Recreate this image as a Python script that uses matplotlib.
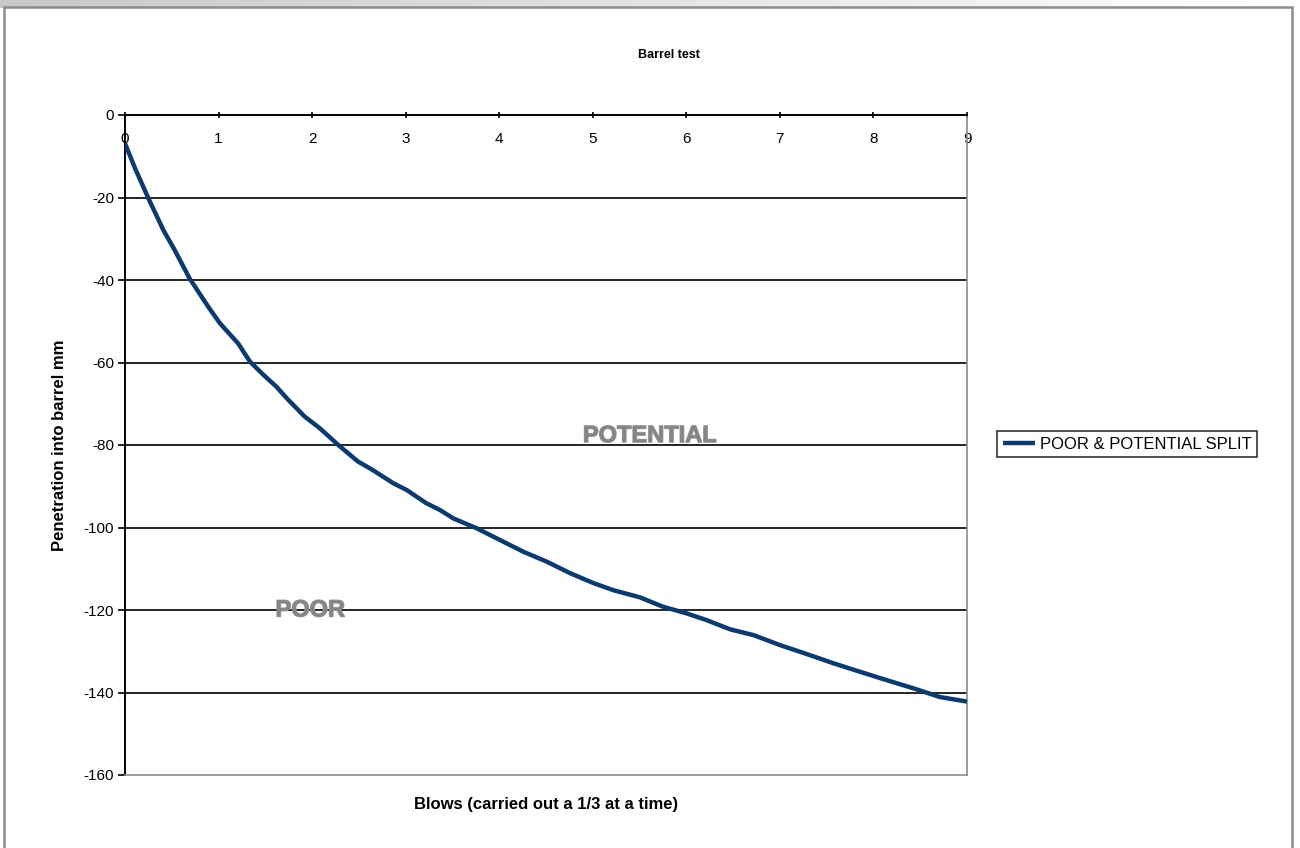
import matplotlib
matplotlib.use('Agg')
import matplotlib.pyplot as plt
import matplotlib.patheffects as pe
from matplotlib.patches import Rectangle
import numpy as np

plt.rcParams['font.family'] = ['Liberation Sans', 'DejaVu Sans']
plt.rcParams['axes.unicode_minus'] = False

# 数据 (blows, penetration mm) - 从原图读取
blows = [0, 0.107, 0.25, 0.41, 0.53, 0.69, 0.89, 1.015, 1.21, 1.336, 1.48, 1.62, 1.73,
         1.92, 2.08, 2.28, 2.49, 2.65, 2.87, 3.01, 3.22, 3.37, 3.51, 3.76, 3.97, 4.26,
         4.51, 4.76, 5.01, 5.22, 5.5, 5.75, 6.0, 6.21, 6.47, 6.72, 7.0, 7.29, 7.57,
         7.86, 8.14, 8.43, 8.71, 9.0]
penetration = [-6.9, -12.9, -20.2, -27.9, -32.7, -39.6, -46.5, -50.5, -55.4, -59.8, -63,
               -65.9, -68.7, -73.1, -75.9, -80, -84, -86.1, -89.3, -90.9, -94.1, -95.8,
               -97.8, -100.2, -102.6, -105.9, -108.3, -111.1, -113.5, -115.2, -116.9,
               -119.2, -120.8, -122.4, -124.7, -126.1, -128.5, -130.7, -132.9, -135,
               -137, -139, -141.1, -142.2]
series_name = 'POOR & POTENTIAL SPLIT'
x_ticks = list(range(0, 10))
y_ticks = list(range(-160, 1, 20))
zones = [('POTENTIAL', 5.61, -79.3), ('POOR', 1.98, -120)]

W, H = 1300, 848
fig = plt.figure(figsize=(W / 100, H / 100), dpi=100)
fig.patch.set_facecolor('white')

# 外框 (Excel 风格)
strip = fig.add_axes([0, 1 - 8 / H, 1, 8 / H], zorder=-20)
strip.imshow(np.linspace(0.78, 1.0, 256)[None, :], cmap='gray', vmin=0, vmax=1,
             aspect='auto', extent=[0, 1, 0, 1])
strip.axis('off')
fig.patches.append(Rectangle((4 / W, -0.05), 1288 / W, 1.05 - 7 / H, transform=fig.transFigure,
                             facecolor='white', edgecolor='#8c8c8c', linewidth=1.8, zorder=-10))

ax = fig.add_axes([125 / W, 1 - 775 / H, 842 / W, 660 / H], zorder=2)
ax.set_facecolor('white')
ax.set_xlim(0, 9)
ax.set_ylim(-160, 0)

for y in y_ticks[1:-1]:
    ax.axhline(y, color='black', linewidth=1.2, zorder=1)

ax.plot(blows, penetration, color='#0b3b6e', linewidth=3.2, label=series_name, zorder=3,
        solid_joinstyle='round', solid_capstyle='butt')

for label, x, y in zones:
    ax.text(x, y, label, ha='center', va='baseline' if label == 'POTENTIAL' else 'center',
            fontsize=17, fontweight='bold', color='#858585', zorder=4,
            path_effects=[pe.withStroke(linewidth=1.0, foreground='#9a9a9a')])

# 坐标轴样式
ax.spines['top'].set_color('black')
ax.spines['left'].set_color('black')
ax.spines['top'].set_linewidth(1.4)
ax.spines['left'].set_linewidth(1.4)
ax.spines['right'].set_color('#8c8c8c')
ax.spines['bottom'].set_color('#8c8c8c')
ax.spines['right'].set_linewidth(1.2)
ax.spines['bottom'].set_linewidth(1.2)

ax.set_xticks(x_ticks)
ax.set_yticks(y_ticks)
ax.xaxis.tick_top()
ax.tick_params(axis='x', direction='inout', length=5, width=1.2, labelsize=11, pad=-25,
               top=True, bottom=False, labeltop=True, labelbottom=False)
ax.tick_params(axis='y', direction='out', length=5, width=1.2, labelsize=11, pad=3)

fig.text(669 / W, 1 - 55 / H, 'Barrel test', ha='center', va='center',
         fontsize=9, fontweight='bold')
fig.text(546 / W, 1 - 804 / H, 'Blows (carried out a 1/3 at a time)', ha='center', va='center',
         fontsize=12, fontweight='bold')
fig.text(60 / W, 1 - 445 / H, 'Penetration into barrel mm', ha='center', va='center',
         rotation=90, fontsize=12, fontweight='bold')

leg = ax.legend(loc='center left', bbox_to_anchor=(997 / W, 1 - 444 / H),
                bbox_transform=fig.transFigure, frameon=True, fancybox=False,
                edgecolor='black', fontsize=12, handlelength=1.9, handletextpad=0.3,
                borderpad=0.35, borderaxespad=0)
leg.get_frame().set_linewidth(1.2)

plt.savefig('out.png', dpi=100)
plt.close()
